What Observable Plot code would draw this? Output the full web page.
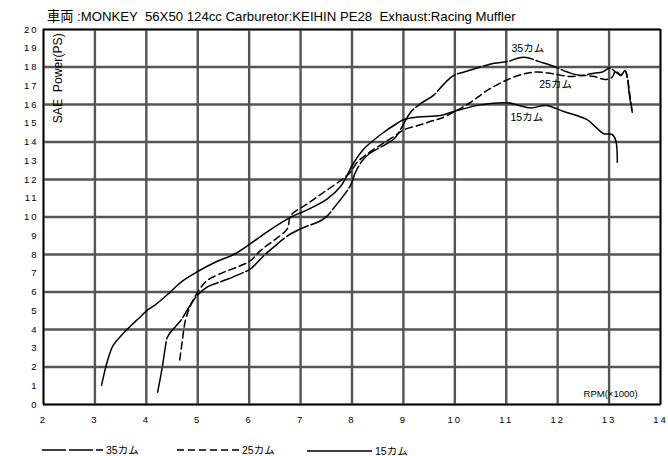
<!DOCTYPE html>
<html><head><meta charset="utf-8">
<script src="https://cdn.jsdelivr.net/npm/d3@7"></script>
<script src="https://cdn.jsdelivr.net/npm/@observablehq/plot@0.6"></script>
<style>
body{margin:0;background:#fff;font-family:"Liberation Sans","Noto Sans CJK JP",Arial,sans-serif;}
#wrap{position:relative;width:668px;height:456px;overflow:hidden;}
#title{position:absolute;left:47px;top:6px;font-size:13.2px;white-space:pre;color:#000;}
#chart{position:absolute;left:0;top:21px;}
#legend{position:absolute;left:0;top:438px;}
</style></head><body>
<div id="wrap"><div id="title"></div><div id="chart"></div><svg id="legend" width="668" height="18"></svg></div>
<script>
const titleText = "車両 :MONKEY  56X50 124cc Carburetor:KEIHIN PE28  Exhaust:Racing Muffler";
const yLabel = "SAE  Power(PS)";
const xUnitLabel = "RPM(×1000)";
const xTicks = [2,3,4,5,6,7,8,9,10,11,12,13,14];
const yTicks = [0,1,2,3,4,5,6,7,8,9,10,11,12,13,14,15,16,17,18,19,20];
const yGrid = [0,2,4,6,8,10,12,14,16,18,20];

const seriesNames = ["35カム","25カム","15カム"];
const seriesDash = ["24,3","7,4",null];

const rpm35 = [4.22,4.31,4.37,4.41,4.50,4.67,4.83,4.96,5.18,5.51,5.83,6.03,6.29,6.50,6.75,7.00,7.45,7.71,7.97,8.07,8.20,8.35,8.56,8.82,8.95,9.14,9.33,9.59,9.79,9.98,10.18,10.50,10.76,11.02,11.34,11.67,11.93,12.19,12.45,12.71,12.87,13.01,13.13,13.23,13.31,13.36,13.39,13.45];
const ps35  = [0.66,1.99,3.06,3.59,3.95,4.48,5.19,5.72,6.26,6.61,6.97,7.24,7.95,8.45,9.00,9.37,9.90,10.70,11.68,12.40,13.00,13.40,13.73,14.17,14.70,15.59,16.04,16.50,17.10,17.55,17.73,18.00,18.20,18.29,18.52,18.26,18.03,17.73,17.55,17.67,17.73,17.94,17.73,17.55,17.81,17.36,16.60,15.59];

const rpm25 = [4.65,4.70,4.76,4.86,5.02,5.18,5.51,5.83,6.03,6.22,6.48,6.74,6.81,7.13,7.45,7.78,7.97,8.10,8.30,8.56,8.82,9.01,9.33,9.59,9.72,9.98,10.31,10.63,11.02,11.34,11.60,11.93,12.25,12.45,12.71,12.93,13.06,13.13,13.23,13.31,13.36,13.40,13.45];
const ps25  = [2.38,3.41,4.48,5.28,6.08,6.61,7.06,7.40,7.68,8.21,8.75,9.37,10.08,10.70,11.32,11.95,12.39,12.92,13.37,13.85,14.30,14.65,14.92,15.15,15.25,15.60,16.12,16.75,17.32,17.63,17.73,17.63,17.49,17.55,17.49,17.33,17.46,17.80,17.55,17.81,17.36,16.60,15.59];

const rpm15 = [3.13,3.23,3.35,3.53,3.71,3.85,4.02,4.18,4.47,4.70,4.99,5.38,5.70,6.03,6.35,6.81,7.13,7.52,7.78,8.04,8.23,8.56,8.88,9.01,9.27,9.72,9.98,10.50,11.02,11.47,11.77,12.12,12.58,12.74,12.90,13.06,13.13,13.16];
const ps15  = [1.03,2.19,3.13,3.73,4.23,4.59,5.03,5.33,6.01,6.58,7.08,7.64,8.00,8.59,9.21,9.99,10.38,10.97,11.64,12.92,13.63,14.40,15.00,15.20,15.33,15.41,15.63,15.98,16.09,15.82,15.95,15.63,15.18,14.79,14.44,14.40,14.08,12.92];

const labelRpm = [11.42,11.96,11.40];
const labelPs  = [19.0,17.07,15.3];
const yLabelPos = {x:2.29, y:17.4};
const unitPos = {x:13.03, y:0.57};

document.getElementById("title").textContent = titleText;

const toRows = (xs, ys) => xs.map((x,i)=>({x, y: ys[i]}));
const rows = [toRows(rpm35,ps35), toRows(rpm25,ps25), toRows(rpm15,ps15)];
const labels = seriesNames.map((n,i)=>({name:n, x:labelRpm[i], y:labelPs[i]}));
const xDom = [xTicks[0], xTicks[xTicks.length-1]];
const yDom = [yTicks[0], yTicks[yTicks.length-1]];

const font = '"Liberation Sans","Noto Sans CJK JP",Arial,sans-serif';
const chart = Plot.plot({
  width: 668, height: 408,
  marginLeft: 43, marginRight: 8, marginTop: 8, marginBottom: 25,
  style: {fontFamily: font, color: "#000"},
  x: {domain: xDom, ticks: xTicks, tickSize: 0, tickPadding: 12, label: null},
  y: {domain: yDom, ticks: yTicks, tickSize: 0, tickPadding: 5, label: null},
  marks: [
    Plot.ruleX(xTicks, {x: d => d, stroke: "#555", strokeWidth: 2.4}),
    Plot.ruleY(yGrid, {y: d => d, stroke: "#555", strokeWidth: 2.4}),
    Plot.frame({fill: "none", stroke: "#000", strokeWidth: 1.3}),
    ...rows.map((r,i)=>Plot.line(r, {x:"x", y:"y", stroke:"#000", strokeWidth:1.5, strokeDasharray: seriesDash[i] || undefined, curve:"catmull-rom"})),
    Plot.text(labels, {x:"x", y:"y", text:"name", fontSize:10.5, fill:"#000"}),
    Plot.text([yLabel], {x: () => yLabelPos.x, y: () => yLabelPos.y, text: d=>d, rotate: -90, fontSize: 12.2, fill:"#000"}),
    Plot.text([xUnitLabel], {x: () => unitPos.x, y: () => unitPos.y, text: d=>d, fontSize: 9.5, fill:"#000"})
  ]
});
chart.querySelectorAll('g[aria-label="x-axis tick label"] text, g[aria-label="y-axis tick label"] text').forEach(t=>{
  t.style.letterSpacing = "2px"; t.setAttribute("font-size","9.5");
});
document.getElementById("chart").appendChild(chart);

// legend
const lg = d3.select("#legend");
const legX = [42,177,307];
const legLen = [61,62,65];
seriesNames.forEach((n,i)=>{
  lg.append("line").attr("x1",legX[i]).attr("x2",legX[i]+legLen[i]).attr("y1",i==2?13:12).attr("y2",i==2?13:12)
    .attr("stroke","#000").attr("stroke-width",1.6).attr("stroke-dasharray",seriesDash[i]||null);
  lg.append("text").attr("x",legX[i]+legLen[i]+3).attr("y",i==2?17:16).attr("font-size",10.5)
    .attr("font-family",font).text(n);
});
</script>
</body></html>
